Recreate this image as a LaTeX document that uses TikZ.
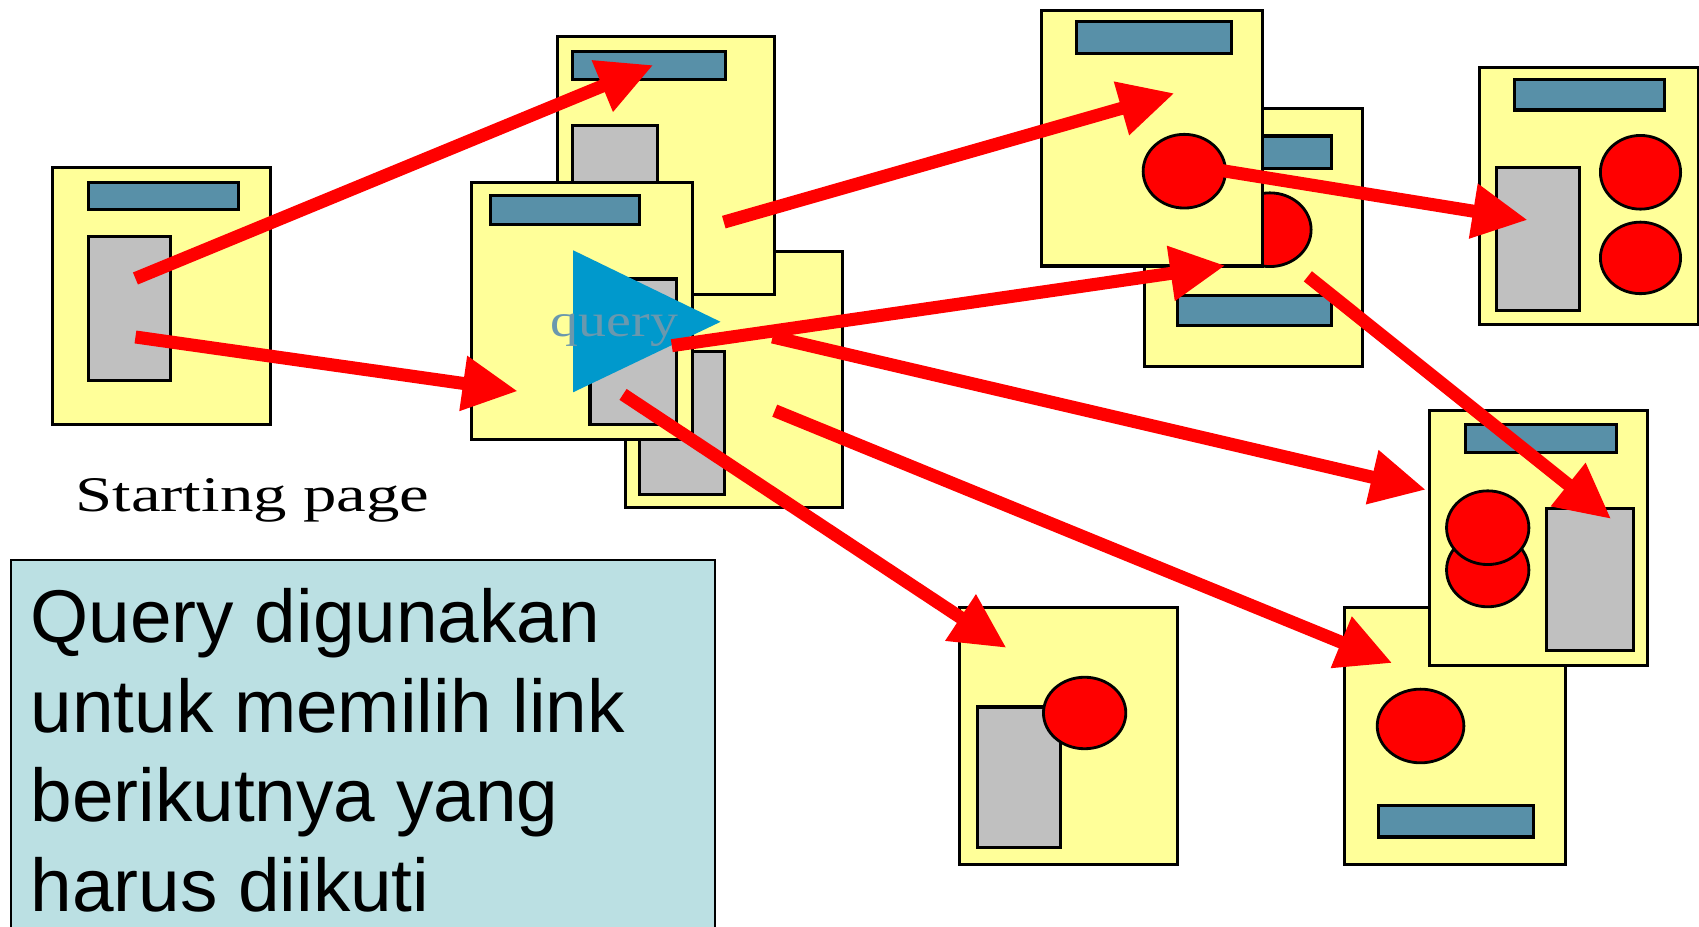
\documentclass[tikz,border=0pt]{standalone}
\usepackage{graphicx}
\usepackage{fontspec}
\setmainfont{Liberation Serif}
\newfontfamily\notefont{Liberation Sans}
\usetikzlibrary{arrows.meta,shapes.geometric}

\definecolor{pageyellow}{HTML}{FFFF99}
\definecolor{barteal}{HTML}{5890A8}
\definecolor{blockgray}{HTML}{C0C0C0}
\definecolor{linkred}{HTML}{FF0000}
\definecolor{queryblue}{HTML}{0099CC}
\definecolor{querytext}{HTML}{6A98AE}
\definecolor{noteblue}{HTML}{BBE0E3}

\tikzset{
  page/.style={draw=black, fill=pageyellow, line width=2.9pt, inner sep=0pt, anchor=north west},
  titlebar/.style={draw=black, fill=barteal, line width=2.9pt, inner sep=0pt, anchor=north west},
  block/.style={draw=black, fill=blockgray, line width=2.9pt, inner sep=0pt, anchor=north west},
  blob/.style={ellipse, draw=black, fill=linkred, line width=2.6pt, inner sep=0pt},
  link/.style={draw=linkred, line width=12pt, -{Triangle[length=51pt,width=48pt]}},
}

% rectangle node: style, name, left, top, right, bottom
\newcommand\rectnode[6]{%
  \node[#1, minimum width={#5pt-#3pt}, minimum height={#6pt-#4pt}] (#2) at (#3,#4) {};}
% ellipse node: name, centre x, centre y, width, height
\newcommand\blobnode[5]{%
  \node[blob, minimum width=#4pt, minimum height=#5pt] (#1) at (#2,#3) {};}

\begin{document}
\begin{tikzpicture}[x=1pt, y=-1pt]
\useasboundingbox (0,0) rectangle (1568,855);
\fill[white] (0,0) rectangle (1568,855);

% explanatory note, running off the bottom edge
\fill[noteblue] (10,517) rectangle (660,880);
\draw[line width=1.5pt] (10,880) -- (10,517) -- (660,517) -- (660,880);
\node[anchor=north west, inner sep=0pt, align=left, font=\notefont\fontsize{69}{82.7}\selectfont]
  (note) at (28,543) {Query digunakan\\untuk memilih link\\berikutnya yang\\harus diikuti};

% starting page
\rectnode{page}{start}{47}{153}{248}{390}
\rectnode{titlebar}{startbar}{80}{167}{219}{192}
\rectnode{block}{startblock}{80}{217}{156}{350}
\node[anchor=base, inner sep=0pt, font=\fontsize{46}{50}\selectfont] (startlabel) at (233,472)
  {\scalebox{1.34}[1]{Starting page}};

% middle stack of pages
\rectnode{page}{midback}{576}{231}{776}{467}
\rectnode{block}{midbackblock}{589}{323}{667}{455}
\rectnode{page}{midtop}{513}{32}{713}{270}
\rectnode{titlebar}{midtopbar}{527}{46}{668}{72}
\rectnode{block}{midtopblock}{527}{114}{605}{250}
\rectnode{page}{midfront}{434}{167}{638}{404}
\rectnode{titlebar}{midfrontbar}{451}{179}{589}{206}
\rectnode{block}{midfrontblock}{543}{256}{623}{390}

% query marker
\fill[queryblue] (529,231) -- (665,297) -- (529,362) -- cycle;
\node[anchor=base, inner sep=0pt, text=querytext, font=\fontsize{43}{48}\selectfont] (querylabel)
  at (567,311) {\scalebox{1.2}[1]{query}};

% upper right pages
\rectnode{page}{upperback}{1055}{99}{1256}{337}
\rectnode{titlebar}{upperbackbar}{1085}{124}{1227}{154}
\blobnode{upperbackblob}{1172}{212}{76}{68}
\rectnode{titlebar}{upperbackfoot}{1085}{271}{1227}{299}
\rectnode{page}{upperfront}{960}{8}{1164}{244}
\rectnode{titlebar}{upperfrontbar}{992}{18}{1135}{48}
\blobnode{upperfrontblob}{1093}{158}{76}{68}

% far right page
\rectnode{page}{farright}{1364}{61}{1566}{298}
\rectnode{titlebar}{farrightbar}{1396}{72}{1535}{100}
\rectnode{block}{farrightblock}{1380}{153}{1456}{285}
\blobnode{farrightblobA}{1514}{159}{74}{68}
\blobnode{farrightblobB}{1514}{238}{74}{66}

% lower right pages
\rectnode{page}{lowerback}{1239}{559}{1443}{796}
\blobnode{lowerbackblob}{1311}{670}{80}{68}
\rectnode{titlebar}{lowerbackbar}{1271}{742}{1414}{771}
\rectnode{page}{lowerfront}{1318}{377}{1519}{613}
\rectnode{titlebar}{lowerfrontbar}{1351}{390}{1490}{416}
\rectnode{block}{lowerfrontblock}{1426}{468}{1506}{599}
\blobnode{lowerfrontblobB}{1373}{526}{76}{68}
\blobnode{lowerfrontblobA}{1373}{487}{76}{68}

% bottom middle page
\rectnode{page}{bottom}{884}{559}{1085}{796}
\rectnode{block}{bottomblock}{901}{651}{977}{781}
\blobnode{bottomblob}{1001}{658}{76}{66}

% link ends
\coordinate (s1) at (125,257);  \coordinate (e1) at (603,60);
\coordinate (s2) at (125,311);  \coordinate (e2) at (478,361);
\coordinate (s3) at (668,205);  \coordinate (e3) at (1084,86);
\coordinate (s4) at (620,319);  \coordinate (e4) at (1131,245);
\coordinate (s5) at (1125,157); \coordinate (e5) at (1410,203);
\coordinate (s6) at (1207,255); \coordinate (e6) at (1487,479);
\coordinate (s7) at (713,311);  \coordinate (e7) at (1316,452);
\coordinate (s8) at (715,379);  \coordinate (e8) at (1285,612);
\coordinate (s9) at (575,364);  \coordinate (e9) at (929,598);

% followed links
\foreach \i in {1,...,9} {\draw[link] (s\i) -- (e\i);}
\end{tikzpicture}
\end{document}
